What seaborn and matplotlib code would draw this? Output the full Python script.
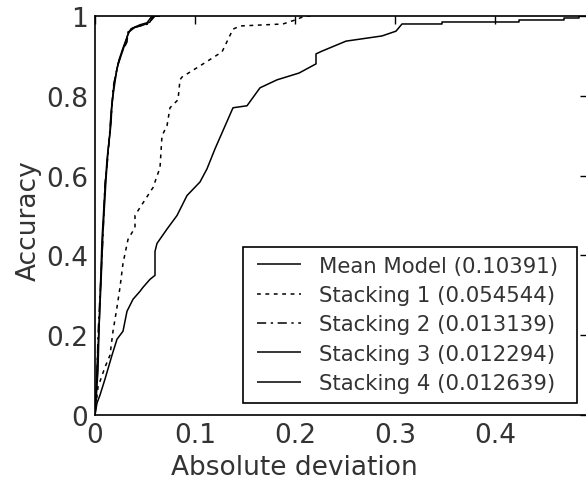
import numpy as np
import pandas as pd
import seaborn as sns
import matplotlib
matplotlib.use("Agg")
import matplotlib.pyplot as plt
from matplotlib.patches import Rectangle

# curves (absolute deviation -> accuracy)
mean_x = [0, 0.002, 0.005, 0.010, 0.017, 0.022, 0.028, 0.032, 0.038, 0.045, 0.048, 0.055,
          0.060, 0.060, 0.062, 0.072, 0.082, 0.092, 0.105, 0.112, 0.120, 0.138, 0.152, 0.165,
          0.182, 0.204, 0.221, 0.221, 0.227, 0.251, 0.287, 0.301, 0.307, 0.347, 0.347, 0.424,
          0.424, 0.469, 0.469, 0.484, 0.484, 0.5]
mean_y = [0, 0.03, 0.05, 0.09, 0.15, 0.19, 0.21, 0.26, 0.29, 0.31, 0.32, 0.34,
          0.35, 0.41, 0.43, 0.466, 0.50, 0.55, 0.584, 0.617, 0.667, 0.77, 0.775, 0.82,
          0.84, 0.857, 0.88, 0.905, 0.912, 0.937, 0.95, 0.962, 0.98, 0.98, 0.985, 0.985,
          0.99, 0.99, 0.995, 0.995, 1.0, 1.0]

stack1_x = [0, 0.003, 0.010, 0.015, 0.018, 0.022, 0.025, 0.028, 0.033, 0.040, 0.040, 0.045,
            0.058, 0.065, 0.067, 0.072, 0.075, 0.083, 0.085, 0.087, 0.105, 0.127, 0.138,
            0.145, 0.188, 0.200, 0.210, 0.220]
stack1_y = [0, 0.07, 0.12, 0.15, 0.21, 0.27, 0.32, 0.38, 0.44, 0.47, 0.50, 0.52,
            0.57, 0.62, 0.70, 0.725, 0.77, 0.79, 0.84, 0.847, 0.875, 0.91, 0.967,
            0.975, 0.98, 0.99, 1.0, 1.0]

stack2_x = [0, 0.001, 0.002, 0.003, 0.005, 0.008, 0.010, 0.013, 0.015, 0.017, 0.018, 0.023,
            0.027, 0.032, 0.033, 0.038, 0.045, 0.053, 0.060, 0.065]
stack2_y = [0, 0.03, 0.10, 0.20, 0.30, 0.45, 0.58, 0.65, 0.72, 0.77, 0.82, 0.88,
            0.91, 0.935, 0.96, 0.97, 0.975, 0.98, 1.0, 1.0]

stack3_x = [0, 0.001, 0.002, 0.004, 0.006, 0.008, 0.011, 0.013, 0.016, 0.017, 0.019, 0.024,
            0.028, 0.031, 0.034, 0.040, 0.048, 0.055, 0.058, 0.065]
stack3_y = [0, 0.05, 0.12, 0.22, 0.33, 0.46, 0.59, 0.66, 0.73, 0.78, 0.83, 0.89,
            0.92, 0.94, 0.96, 0.972, 0.977, 0.985, 1.0, 1.0]

stack4_x = [0, 0.001, 0.003, 0.004, 0.005, 0.007, 0.010, 0.012, 0.015, 0.016, 0.018, 0.022,
            0.026, 0.030, 0.033, 0.036, 0.045, 0.052, 0.057, 0.065]
stack4_y = [0, 0.04, 0.11, 0.21, 0.29, 0.44, 0.57, 0.64, 0.71, 0.76, 0.80, 0.87,
            0.90, 0.93, 0.955, 0.968, 0.978, 0.983, 1.0, 1.0]

labels = ["Mean Model (0.10391)", "Stacking 1 (0.054544)", "Stacking 2 (0.013139)",
          "Stacking 3 (0.012294)", "Stacking 4 (0.012639)"]
xticks = [0, 0.1, 0.2, 0.3, 0.4]
xtick_labels = ["0", "0.1", "0.2", "0.3", "0.4"]
yticks = [0, 0.2, 0.4, 0.6, 0.8, 1.0]
ytick_labels = ["0", "0.2", "0.4", "0.6", "0.8", "1"]

sns.set_theme(style="white")
plt.rcParams['font.family'] = ['DejaVu Sans']
txt = '#333333'
W, H = 586, 485

fig = plt.figure(figsize=(5.86, 4.85), dpi=100)
ax = fig.add_axes([95 / W, 69 / H, 500 / W, 399 / H])

series = [(mean_x, mean_y, (0, ())), (stack1_x, stack1_y, (0, (2.5, 3))),
          (stack2_x, stack2_y, (0, (6, 3, 1.5, 3))), (stack3_x, stack3_y, (0, ())),
          (stack4_x, stack4_y, (0, ()))]
for (xs, ys, ls), lab in zip(series, labels):
    df = pd.DataFrame({'x': xs, 'y': ys})
    sns.lineplot(data=df, x='x', y='y', ax=ax, color='black', lw=1.1, sort=False,
                 estimator=None, linestyle=ls, label=lab)

ax.set_xlim(0, 0.5)
ax.set_ylim(0, 1)
ax.set_xticks(xticks)
ax.set_xticklabels(xtick_labels)
ax.set_yticks(yticks)
ax.set_yticklabels(ytick_labels)
ax.tick_params(direction='in', length=6, width=1, top=True, right=True, color='black',
               labelsize=19, labelcolor=txt, pad=5)
# right-hand ticks reach just inside the cropped edge
for tk in ax.yaxis.get_major_ticks():
    tk.tick2line.set_markersize(11)
for s in ax.spines.values():
    s.set_color('black')
    s.set_linewidth(1.2)

ax.set_xlabel("Absolute deviation", fontsize=19, color=txt)
ax.set_ylabel("Accuracy", fontsize=19, color=txt)
ax.xaxis.set_label_coords(0.398, -0.097)
ax.yaxis.set_label_coords(-0.106, 0.49)

# legend box drawn separately so the inner margins can match the original
ax.add_patch(Rectangle((243 / W, 81 / H), 334 / W, 156 / H, transform=fig.transFigure,
                       facecolor='white', edgecolor='black', lw=1.2, clip_on=False, zorder=4))
leg = ax.legend(loc='upper left', bbox_to_anchor=(248.5 / W, 237 / H),
                bbox_transform=fig.transFigure, borderaxespad=0, fontsize=15.3,
                frameon=False, handlelength=2.05, handletextpad=0.87,
                labelspacing=0.445, borderpad=0.4)
leg.set_zorder(5)
for t in leg.get_texts():
    t.set_color(txt)

fig.savefig('out.png', dpi=100, facecolor='white')
